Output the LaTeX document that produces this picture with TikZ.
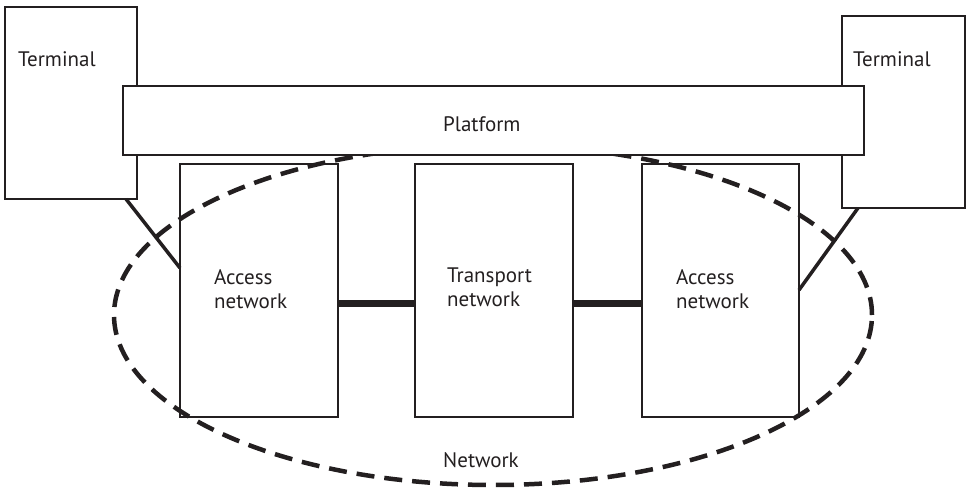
\documentclass[tikz,border=0pt]{standalone}
\usepackage{fontspec}
\setmainfont{PT Sans}
\usetikzlibrary{calc}
\definecolor{ink}{HTML}{231F20}
\begin{document}
\begin{tikzpicture}[x=1pt,y=-1pt,
  box/.style={draw=ink,line width=2.3pt,inner sep=0pt,outer sep=0pt,anchor=north west},
  lbl/.style={anchor=base west,inner sep=0pt,text=ink,font=\fontsize{21}{24}\selectfont},
  link/.style={draw=ink,line width=3.5pt},
  trunk/.style={draw=ink,line width=7pt},
  netline/.style={draw=ink,line width=4.5pt,dash pattern=on 18pt off 10pt}]
\useasboundingbox (0,0) rectangle (969,490);
% terminals
\node[box,minimum width=132pt,minimum height=192pt] (termL) at (5,7) {};
\node[box,minimum width=123pt,minimum height=192pt] (termR) at (842,16) {};
\node[lbl] (tlL) at (18,66) {Terminal};
\node[lbl] (tlR) at (853,66) {Terminal};
% network boxes
\node[box,minimum width=158pt,minimum height=253pt] (accL) at (180,164) {};
\node[box,minimum width=158pt,minimum height=253pt] (trans) at (415,164) {};
\node[box,minimum width=157pt,minimum height=253pt] (accR) at (642,164) {};
% network ellipse
\draw[netline] (493,315) ellipse [x radius=379pt, y radius=170pt];
% platform
\node[box,fill=white,minimum width=741pt,minimum height=69pt] (plat) at (123,86) {};
\node[lbl] (platL) at (443,131) {Platform};
% labels
\node[lbl] (aL1) at (214,284) {Access};
\node[lbl] (aL2) at (214,308) {network};
\node[lbl] (tr1) at (447,282) {Transport};
\node[lbl] (tr2) at (447,306) {network};
\node[lbl] (aR1) at (676,284) {Access};
\node[lbl] (aR2) at (676,308) {network};
\node[lbl] (netL) at (443,467) {Network};
% connectors
\draw[trunk] ($(accL.east)+(0,12.5)$) -- ($(trans.west)+(0,12.5)$);
\draw[trunk] ($(trans.east)+(0,12.5)$) -- ($(accR.west)+(0,12.5)$);
\draw[link] ($(termL.south east)+(-11,0)$) -- ($(accL.north west)+(0,104)$);
\draw[link] ($(termR.south west)+(16,0)$) -- ($(accR.north east)+(0,126)$);
\end{tikzpicture}
\end{document}
